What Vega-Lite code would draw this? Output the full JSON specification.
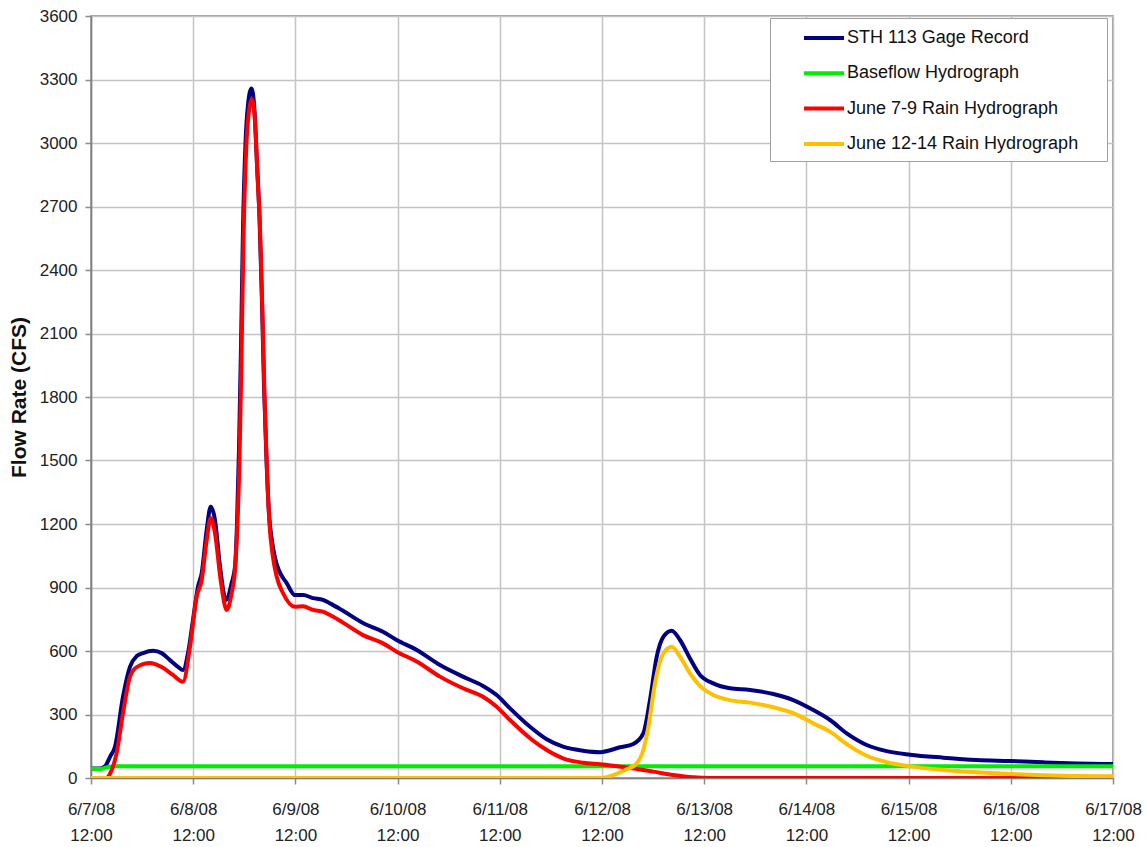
{
  "$schema": "https://vega.github.io/schema/vega-lite/v6.json",
  "width": 1022,
  "height": 762,
  "autosize": {"type": "none"},
  "padding": {"left": 91, "top": 16, "right": 34, "bottom": 69},
  "background": "white",
  "config": {
    "view": {"stroke": "#808080", "strokeWidth": 1.5},
    "font": "Liberation Sans"
  },
  "data": {
    "values": [
      {"s": "STH 113 Gage Record", "t": "2008-06-07T12:00", "v": 45},
      {"s": "STH 113 Gage Record", "t": "2008-06-07T14:07", "v": 45},
      {"s": "STH 113 Gage Record", "t": "2008-06-07T15:17", "v": 55},
      {"s": "STH 113 Gage Record", "t": "2008-06-07T16:28", "v": 100},
      {"s": "STH 113 Gage Record", "t": "2008-06-07T17:38", "v": 148},
      {"s": "STH 113 Gage Record", "t": "2008-06-07T19:31", "v": 384},
      {"s": "STH 113 Gage Record", "t": "2008-06-07T21:10", "v": 526},
      {"s": "STH 113 Gage Record", "t": "2008-06-07T22:44", "v": 576},
      {"s": "STH 113 Gage Record", "t": "2008-06-08T00:13", "v": 590},
      {"s": "STH 113 Gage Record", "t": "2008-06-08T02:34", "v": 601},
      {"s": "STH 113 Gage Record", "t": "2008-06-08T04:36", "v": 590},
      {"s": "STH 113 Gage Record", "t": "2008-06-08T06:33", "v": 557},
      {"s": "STH 113 Gage Record", "t": "2008-06-08T08:26", "v": 525},
      {"s": "STH 113 Gage Record", "t": "2008-06-08T09:36", "v": 510},
      {"s": "STH 113 Gage Record", "t": "2008-06-08T10:47", "v": 590},
      {"s": "STH 113 Gage Record", "t": "2008-06-08T11:57", "v": 746},
      {"s": "STH 113 Gage Record", "t": "2008-06-08T13:08", "v": 904},
      {"s": "STH 113 Gage Record", "t": "2008-06-08T14:00", "v": 968},
      {"s": "STH 113 Gage Record", "t": "2008-06-08T15:10", "v": 1171},
      {"s": "STH 113 Gage Record", "t": "2008-06-08T16:07", "v": 1282},
      {"s": "STH 113 Gage Record", "t": "2008-06-08T17:07", "v": 1219},
      {"s": "STH 113 Gage Record", "t": "2008-06-08T18:18", "v": 998},
      {"s": "STH 113 Gage Record", "t": "2008-06-08T19:42", "v": 841},
      {"s": "STH 113 Gage Record", "t": "2008-06-08T21:02", "v": 921},
      {"s": "STH 113 Gage Record", "t": "2008-06-08T21:49", "v": 998},
      {"s": "STH 113 Gage Record", "t": "2008-06-08T22:17", "v": 1200},
      {"s": "STH 113 Gage Record", "t": "2008-06-08T22:45", "v": 1550},
      {"s": "STH 113 Gage Record", "t": "2008-06-08T23:14", "v": 2050},
      {"s": "STH 113 Gage Record", "t": "2008-06-08T23:42", "v": 2600},
      {"s": "STH 113 Gage Record", "t": "2008-06-09T00:17", "v": 3000},
      {"s": "STH 113 Gage Record", "t": "2008-06-09T00:52", "v": 3180},
      {"s": "STH 113 Gage Record", "t": "2008-06-09T01:41", "v": 3258},
      {"s": "STH 113 Gage Record", "t": "2008-06-09T02:24", "v": 3150},
      {"s": "STH 113 Gage Record", "t": "2008-06-09T02:59", "v": 2900},
      {"s": "STH 113 Gage Record", "t": "2008-06-09T03:34", "v": 2650},
      {"s": "STH 113 Gage Record", "t": "2008-06-09T04:09", "v": 2250},
      {"s": "STH 113 Gage Record", "t": "2008-06-09T04:38", "v": 1850},
      {"s": "STH 113 Gage Record", "t": "2008-06-09T05:13", "v": 1500},
      {"s": "STH 113 Gage Record", "t": "2008-06-09T05:48", "v": 1250},
      {"s": "STH 113 Gage Record", "t": "2008-06-09T06:30", "v": 1120},
      {"s": "STH 113 Gage Record", "t": "2008-06-09T07:13", "v": 1040},
      {"s": "STH 113 Gage Record", "t": "2008-06-09T08:09", "v": 980},
      {"s": "STH 113 Gage Record", "t": "2008-06-09T09:57", "v": 921},
      {"s": "STH 113 Gage Record", "t": "2008-06-09T11:54", "v": 864},
      {"s": "STH 113 Gage Record", "t": "2008-06-09T13:47", "v": 864},
      {"s": "STH 113 Gage Record", "t": "2008-06-09T16:08", "v": 850},
      {"s": "STH 113 Gage Record", "t": "2008-06-09T18:29", "v": 841},
      {"s": "STH 113 Gage Record", "t": "2008-06-09T20:08", "v": 825},
      {"s": "STH 113 Gage Record", "t": "2008-06-09T23:11", "v": 790},
      {"s": "STH 113 Gage Record", "t": "2008-06-10T03:52", "v": 732},
      {"s": "STH 113 Gage Record", "t": "2008-06-10T08:34", "v": 691},
      {"s": "STH 113 Gage Record", "t": "2008-06-10T11:47", "v": 652},
      {"s": "STH 113 Gage Record", "t": "2008-06-10T16:29", "v": 605},
      {"s": "STH 113 Gage Record", "t": "2008-06-10T21:57", "v": 534},
      {"s": "STH 113 Gage Record", "t": "2008-06-11T03:21", "v": 479},
      {"s": "STH 113 Gage Record", "t": "2008-06-11T08:03", "v": 435},
      {"s": "STH 113 Gage Record", "t": "2008-06-11T11:16", "v": 392},
      {"s": "STH 113 Gage Record", "t": "2008-06-11T14:24", "v": 329},
      {"s": "STH 113 Gage Record", "t": "2008-06-11T19:06", "v": 242},
      {"s": "STH 113 Gage Record", "t": "2008-06-11T23:01", "v": 183},
      {"s": "STH 113 Gage Record", "t": "2008-06-12T02:50", "v": 148},
      {"s": "STH 113 Gage Record", "t": "2008-06-12T07:32", "v": 129},
      {"s": "STH 113 Gage Record", "t": "2008-06-12T11:32", "v": 122},
      {"s": "STH 113 Gage Record", "t": "2008-06-12T16:14", "v": 145},
      {"s": "STH 113 Gage Record", "t": "2008-06-12T19:21", "v": 161},
      {"s": "STH 113 Gage Record", "t": "2008-06-12T21:42", "v": 211},
      {"s": "STH 113 Gage Record", "t": "2008-06-12T23:16", "v": 368},
      {"s": "STH 113 Gage Record", "t": "2008-06-13T00:51", "v": 573},
      {"s": "STH 113 Gage Record", "t": "2008-06-13T02:24", "v": 667},
      {"s": "STH 113 Gage Record", "t": "2008-06-13T04:22", "v": 696},
      {"s": "STH 113 Gage Record", "t": "2008-06-13T06:19", "v": 652},
      {"s": "STH 113 Gage Record", "t": "2008-06-13T08:40", "v": 565},
      {"s": "STH 113 Gage Record", "t": "2008-06-13T11:01", "v": 487},
      {"s": "STH 113 Gage Record", "t": "2008-06-13T14:08", "v": 447},
      {"s": "STH 113 Gage Record", "t": "2008-06-13T18:03", "v": 424},
      {"s": "STH 113 Gage Record", "t": "2008-06-13T22:45", "v": 416},
      {"s": "STH 113 Gage Record", "t": "2008-06-14T04:14", "v": 397},
      {"s": "STH 113 Gage Record", "t": "2008-06-14T08:55", "v": 368},
      {"s": "STH 113 Gage Record", "t": "2008-06-14T13:37", "v": 321},
      {"s": "STH 113 Gage Record", "t": "2008-06-14T17:33", "v": 274},
      {"s": "STH 113 Gage Record", "t": "2008-06-14T21:28", "v": 211},
      {"s": "STH 113 Gage Record", "t": "2008-06-15T02:10", "v": 156},
      {"s": "STH 113 Gage Record", "t": "2008-06-15T06:51", "v": 127},
      {"s": "STH 113 Gage Record", "t": "2008-06-15T12:20", "v": 110},
      {"s": "STH 113 Gage Record", "t": "2008-06-15T20:09", "v": 96},
      {"s": "STH 113 Gage Record", "t": "2008-06-16T04:00", "v": 85},
      {"s": "STH 113 Gage Record", "t": "2008-06-16T11:49", "v": 80},
      {"s": "STH 113 Gage Record", "t": "2008-06-16T19:38", "v": 74},
      {"s": "STH 113 Gage Record", "t": "2008-06-17T03:28", "v": 69},
      {"s": "STH 113 Gage Record", "t": "2008-06-17T12:00", "v": 66},

      {"s": "Baseflow Hydrograph", "t": "2008-06-07T12:00", "v": 45},
      {"s": "Baseflow Hydrograph", "t": "2008-06-07T14:07", "v": 42},
      {"s": "Baseflow Hydrograph", "t": "2008-06-07T16:00", "v": 52},
      {"s": "Baseflow Hydrograph", "t": "2008-06-07T17:38", "v": 55},
      {"s": "Baseflow Hydrograph", "t": "2008-06-12T12:00", "v": 55},
      {"s": "Baseflow Hydrograph", "t": "2008-06-17T12:00", "v": 55},

      {"s": "June 7-9 Rain Hydrograph", "t": "2008-06-07T12:00", "v": 0},
      {"s": "June 7-9 Rain Hydrograph", "t": "2008-06-07T15:31", "v": 0},
      {"s": "June 7-9 Rain Hydrograph", "t": "2008-06-07T16:28", "v": 20},
      {"s": "June 7-9 Rain Hydrograph", "t": "2008-06-07T18:02", "v": 120},
      {"s": "June 7-9 Rain Hydrograph", "t": "2008-06-07T19:31", "v": 306},
      {"s": "June 7-9 Rain Hydrograph", "t": "2008-06-07T21:10", "v": 479},
      {"s": "June 7-9 Rain Hydrograph", "t": "2008-06-07T22:44", "v": 524},
      {"s": "June 7-9 Rain Hydrograph", "t": "2008-06-08T01:51", "v": 543},
      {"s": "June 7-9 Rain Hydrograph", "t": "2008-06-08T04:36", "v": 524},
      {"s": "June 7-9 Rain Hydrograph", "t": "2008-06-08T07:15", "v": 487},
      {"s": "June 7-9 Rain Hydrograph", "t": "2008-06-08T09:36", "v": 455},
      {"s": "June 7-9 Rain Hydrograph", "t": "2008-06-08T11:15", "v": 620},
      {"s": "June 7-9 Rain Hydrograph", "t": "2008-06-08T12:49", "v": 857},
      {"s": "June 7-9 Rain Hydrograph", "t": "2008-06-08T14:00", "v": 935},
      {"s": "June 7-9 Rain Hydrograph", "t": "2008-06-08T15:10", "v": 1124},
      {"s": "June 7-9 Rain Hydrograph", "t": "2008-06-08T16:07", "v": 1228},
      {"s": "June 7-9 Rain Hydrograph", "t": "2008-06-08T17:07", "v": 1157},
      {"s": "June 7-9 Rain Hydrograph", "t": "2008-06-08T18:27", "v": 935},
      {"s": "June 7-9 Rain Hydrograph", "t": "2008-06-08T19:52", "v": 794},
      {"s": "June 7-9 Rain Hydrograph", "t": "2008-06-08T21:02", "v": 874},
      {"s": "June 7-9 Rain Hydrograph", "t": "2008-06-08T21:49", "v": 983},
      {"s": "June 7-9 Rain Hydrograph", "t": "2008-06-08T22:17", "v": 1150},
      {"s": "June 7-9 Rain Hydrograph", "t": "2008-06-08T22:52", "v": 1500},
      {"s": "June 7-9 Rain Hydrograph", "t": "2008-06-08T23:21", "v": 2000},
      {"s": "June 7-9 Rain Hydrograph", "t": "2008-06-08T23:49", "v": 2550},
      {"s": "June 7-9 Rain Hydrograph", "t": "2008-06-09T00:24", "v": 2950},
      {"s": "June 7-9 Rain Hydrograph", "t": "2008-06-09T00:59", "v": 3130},
      {"s": "June 7-9 Rain Hydrograph", "t": "2008-06-09T01:48", "v": 3205},
      {"s": "June 7-9 Rain Hydrograph", "t": "2008-06-09T02:31", "v": 3100},
      {"s": "June 7-9 Rain Hydrograph", "t": "2008-06-09T03:06", "v": 2850},
      {"s": "June 7-9 Rain Hydrograph", "t": "2008-06-09T03:41", "v": 2600},
      {"s": "June 7-9 Rain Hydrograph", "t": "2008-06-09T04:16", "v": 2200},
      {"s": "June 7-9 Rain Hydrograph", "t": "2008-06-09T04:45", "v": 1800},
      {"s": "June 7-9 Rain Hydrograph", "t": "2008-06-09T05:20", "v": 1450},
      {"s": "June 7-9 Rain Hydrograph", "t": "2008-06-09T05:55", "v": 1200},
      {"s": "June 7-9 Rain Hydrograph", "t": "2008-06-09T06:37", "v": 1060},
      {"s": "June 7-9 Rain Hydrograph", "t": "2008-06-09T07:37", "v": 951},
      {"s": "June 7-9 Rain Hydrograph", "t": "2008-06-09T09:05", "v": 874},
      {"s": "June 7-9 Rain Hydrograph", "t": "2008-06-09T11:54", "v": 809},
      {"s": "June 7-9 Rain Hydrograph", "t": "2008-06-09T13:47", "v": 812},
      {"s": "June 7-9 Rain Hydrograph", "t": "2008-06-09T16:08", "v": 794},
      {"s": "June 7-9 Rain Hydrograph", "t": "2008-06-09T18:29", "v": 786},
      {"s": "June 7-9 Rain Hydrograph", "t": "2008-06-09T20:08", "v": 770},
      {"s": "June 7-9 Rain Hydrograph", "t": "2008-06-09T23:11", "v": 734},
      {"s": "June 7-9 Rain Hydrograph", "t": "2008-06-10T03:52", "v": 675},
      {"s": "June 7-9 Rain Hydrograph", "t": "2008-06-10T08:34", "v": 636},
      {"s": "June 7-9 Rain Hydrograph", "t": "2008-06-10T11:47", "v": 597},
      {"s": "June 7-9 Rain Hydrograph", "t": "2008-06-10T16:29", "v": 550},
      {"s": "June 7-9 Rain Hydrograph", "t": "2008-06-10T21:57", "v": 479},
      {"s": "June 7-9 Rain Hydrograph", "t": "2008-06-11T03:21", "v": 424},
      {"s": "June 7-9 Rain Hydrograph", "t": "2008-06-11T08:03", "v": 384},
      {"s": "June 7-9 Rain Hydrograph", "t": "2008-06-11T11:16", "v": 337},
      {"s": "June 7-9 Rain Hydrograph", "t": "2008-06-11T14:24", "v": 274},
      {"s": "June 7-9 Rain Hydrograph", "t": "2008-06-11T19:06", "v": 188},
      {"s": "June 7-9 Rain Hydrograph", "t": "2008-06-11T23:01", "v": 132},
      {"s": "June 7-9 Rain Hydrograph", "t": "2008-06-12T02:50", "v": 93},
      {"s": "June 7-9 Rain Hydrograph", "t": "2008-06-12T07:32", "v": 72},
      {"s": "June 7-9 Rain Hydrograph", "t": "2008-06-12T11:32", "v": 65},
      {"s": "June 7-9 Rain Hydrograph", "t": "2008-06-12T17:48", "v": 50},
      {"s": "June 7-9 Rain Hydrograph", "t": "2008-06-13T00:03", "v": 30},
      {"s": "June 7-9 Rain Hydrograph", "t": "2008-06-13T04:45", "v": 14},
      {"s": "June 7-9 Rain Hydrograph", "t": "2008-06-13T09:26", "v": 3},
      {"s": "June 7-9 Rain Hydrograph", "t": "2008-06-13T13:22", "v": 0},
      {"s": "June 7-9 Rain Hydrograph", "t": "2008-06-17T12:00", "v": 0},

      {"s": "June 12-14 Rain Hydrograph", "t": "2008-06-07T12:00", "v": 0},
      {"s": "June 12-14 Rain Hydrograph", "t": "2008-06-12T11:32", "v": 0},
      {"s": "June 12-14 Rain Hydrograph", "t": "2008-06-12T14:39", "v": 14},
      {"s": "June 12-14 Rain Hydrograph", "t": "2008-06-12T17:48", "v": 41},
      {"s": "June 12-14 Rain Hydrograph", "t": "2008-06-12T20:09", "v": 69},
      {"s": "June 12-14 Rain Hydrograph", "t": "2008-06-12T21:42", "v": 132},
      {"s": "June 12-14 Rain Hydrograph", "t": "2008-06-12T22:53", "v": 242},
      {"s": "June 12-14 Rain Hydrograph", "t": "2008-06-13T00:27", "v": 447},
      {"s": "June 12-14 Rain Hydrograph", "t": "2008-06-13T02:01", "v": 573},
      {"s": "June 12-14 Rain Hydrograph", "t": "2008-06-13T04:22", "v": 620},
      {"s": "June 12-14 Rain Hydrograph", "t": "2008-06-13T06:19", "v": 573},
      {"s": "June 12-14 Rain Hydrograph", "t": "2008-06-13T08:40", "v": 494},
      {"s": "June 12-14 Rain Hydrograph", "t": "2008-06-13T11:01", "v": 435},
      {"s": "June 12-14 Rain Hydrograph", "t": "2008-06-13T14:08", "v": 392},
      {"s": "June 12-14 Rain Hydrograph", "t": "2008-06-13T18:03", "v": 368},
      {"s": "June 12-14 Rain Hydrograph", "t": "2008-06-13T22:45", "v": 356},
      {"s": "June 12-14 Rain Hydrograph", "t": "2008-06-14T04:14", "v": 334},
      {"s": "June 12-14 Rain Hydrograph", "t": "2008-06-14T08:55", "v": 306},
      {"s": "June 12-14 Rain Hydrograph", "t": "2008-06-14T13:37", "v": 258},
      {"s": "June 12-14 Rain Hydrograph", "t": "2008-06-14T17:33", "v": 219},
      {"s": "June 12-14 Rain Hydrograph", "t": "2008-06-14T21:28", "v": 160},
      {"s": "June 12-14 Rain Hydrograph", "t": "2008-06-15T02:10", "v": 105},
      {"s": "June 12-14 Rain Hydrograph", "t": "2008-06-15T06:51", "v": 75},
      {"s": "June 12-14 Rain Hydrograph", "t": "2008-06-15T12:20", "v": 55},
      {"s": "June 12-14 Rain Hydrograph", "t": "2008-06-15T20:09", "v": 38},
      {"s": "June 12-14 Rain Hydrograph", "t": "2008-06-16T04:00", "v": 27},
      {"s": "June 12-14 Rain Hydrograph", "t": "2008-06-16T11:49", "v": 19},
      {"s": "June 12-14 Rain Hydrograph", "t": "2008-06-16T19:38", "v": 13},
      {"s": "June 12-14 Rain Hydrograph", "t": "2008-06-17T03:28", "v": 9},
      {"s": "June 12-14 Rain Hydrograph", "t": "2008-06-17T12:00", "v": 8}
    ]
  },
  "mark": {"type": "line", "interpolate": "monotone", "strokeWidth": 4, "strokeCap": "round", "strokeJoin": "round", "clip": true},
  "encoding": {
    "x": {
      "field": "t",
      "type": "temporal",
      "scale": {
        "domain": [
          {"year": 2008, "month": 6, "date": 7, "hours": 12},
          {"year": 2008, "month": 6, "date": 17, "hours": 12}
        ]
      },
      "axis": {
        "title": null,
        "values": [
          {"year": 2008, "month": 6, "date": 7, "hours": 12},
          {"year": 2008, "month": 6, "date": 8, "hours": 12},
          {"year": 2008, "month": 6, "date": 9, "hours": 12},
          {"year": 2008, "month": 6, "date": 10, "hours": 12},
          {"year": 2008, "month": 6, "date": 11, "hours": 12},
          {"year": 2008, "month": 6, "date": 12, "hours": 12},
          {"year": 2008, "month": 6, "date": 13, "hours": 12},
          {"year": 2008, "month": 6, "date": 14, "hours": 12},
          {"year": 2008, "month": 6, "date": 15, "hours": 12},
          {"year": 2008, "month": 6, "date": 16, "hours": 12},
          {"year": 2008, "month": 6, "date": 17, "hours": 12}
        ],
        "labelExpr": "[timeFormat(datum.value, '%-m/%-d/%y'), timeFormat(datum.value, '%H:%M')]",
        "labelFont": "Liberation Sans",
        "labelFontSize": 17,
        "labelColor": "#222222",
        "labelLineHeight": 26,
        "labelPadding": 17,
        "labelFlush": false,
        "labelOverlap": false,
        "tickSize": 6,
        "tickColor": "#8a8a8a",
        "tickWidth": 1.5,
        "grid": true,
        "gridColor": "#c4c4c4",
        "gridWidth": 1.5,
        "domainColor": "#808080",
        "domainWidth": 1.5
      }
    },
    "y": {
      "field": "v",
      "type": "quantitative",
      "scale": {"domain": [0, 3600], "nice": false},
      "axis": {
        "values": [0, 300, 600, 900, 1200, 1500, 1800, 2100, 2400, 2700, 3000, 3300, 3600],
        "format": "d",
        "title": "Flow Rate (CFS)",
        "titleFont": "Liberation Sans",
        "titleFontSize": 21,
        "titleFontWeight": "bold",
        "titleColor": "#111111",
        "titleX": -72,
        "titleY": 381,
        "titleAngle": -90,
        "titleAlign": "center",
        "titleBaseline": "middle",
        "labelFont": "Liberation Sans",
        "labelFontSize": 17,
        "labelColor": "#222222",
        "labelPadding": 8,
        "tickSize": 6,
        "tickColor": "#8a8a8a",
        "tickWidth": 1.5,
        "grid": true,
        "gridColor": "#c4c4c4",
        "gridWidth": 1.5,
        "domainColor": "#808080",
        "domainWidth": 1.5
      }
    },
    "color": {
      "field": "s",
      "type": "nominal",
      "scale": {
        "domain": ["STH 113 Gage Record", "Baseflow Hydrograph", "June 7-9 Rain Hydrograph", "June 12-14 Rain Hydrograph"],
        "range": ["#000080", "#00ee00", "#ff0000", "#ffc000"]
      },
      "legend": {
        "orient": "none",
        "direction": "vertical",
        "legendX": 679,
        "legendY": 2,
        "title": null,
        "fillColor": "white",
        "strokeColor": "#a0a0a0",
        "padding": 8,
        "symbolType": "M-2,0H2",
        "symbolSize": 400,
        "symbolStrokeWidth": 4,
        "symbolOffset": 34,
        "labelOffset": 11,
        "labelFont": "Liberation Sans",
        "labelFontSize": 18,
        "labelColor": "#111111",
        "labelLimit": 500,
        "rowPadding": 14.3,
        "labelExpr": "datum.label + '\u00a0\u00a0\u00a0\u00a0\u200b'"
      }
    }
  }
}
